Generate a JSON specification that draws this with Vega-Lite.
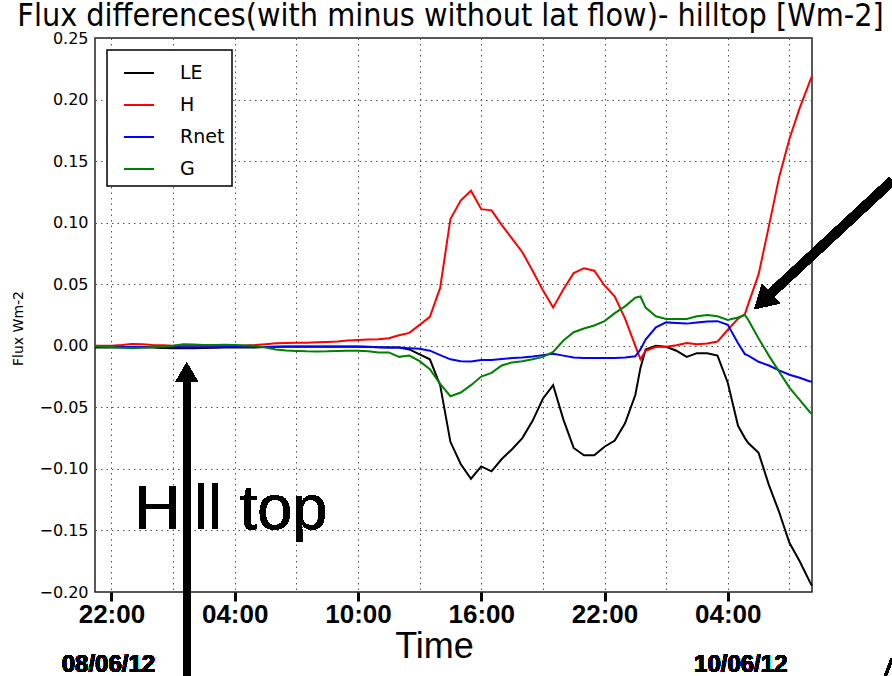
{
  "$schema": "https://vega.github.io/schema/vega-lite/v6.json",
  "width": 717,
  "height": 554,
  "autosize": {"type": "none"},
  "padding": {"left": 95, "top": 38, "right": 80, "bottom": 84},
  "background": "white",
  "title": {
    "text": "Flux differences(with minus without lat flow)- hilltop [Wm-2]",
    "font": "DejaVu Sans Condensed, DejaVu Sans",
    "fontSize": 32,
    "fontWeight": "normal",
    "color": "black",
    "anchor": "middle",
    "baseline": "alphabetic",
    "offset": 9,
    "dx": -3,
    "dy": 37
  },
  "data": {
    "values": [
      {"t": "2012-06-08 21:12", "LE": -0.0014, "H": 0.0, "Rnet": -0.001, "G": 0.0},
      {"t": "2012-06-08 21:30", "LE": -0.0014, "H": 0.0, "Rnet": -0.001, "G": -0.0005},
      {"t": "2012-06-08 22:00", "LE": -0.0014, "H": 0.0, "Rnet": -0.001, "G": -0.001},
      {"t": "2012-06-08 22:30", "LE": -0.0014, "H": 0.0006, "Rnet": -0.001, "G": -0.0015},
      {"t": "2012-06-08 23:00", "LE": -0.0015, "H": 0.0014, "Rnet": -0.001, "G": -0.002},
      {"t": "2012-06-08 23:30", "LE": -0.0015, "H": 0.0012, "Rnet": -0.001, "G": -0.0015},
      {"t": "2012-06-09 00:00", "LE": -0.0015, "H": 0.0006, "Rnet": -0.001, "G": -0.001},
      {"t": "2012-06-09 00:30", "LE": -0.0018, "H": 0.0004, "Rnet": -0.001, "G": -0.0005},
      {"t": "2012-06-09 01:00", "LE": -0.002, "H": 0.0, "Rnet": -0.001, "G": 0.0},
      {"t": "2012-06-09 01:30", "LE": -0.002, "H": 0.0, "Rnet": -0.0012, "G": 0.0012},
      {"t": "2012-06-09 02:00", "LE": -0.002, "H": 0.0, "Rnet": -0.0012, "G": 0.001},
      {"t": "2012-06-09 02:30", "LE": -0.0018, "H": 0.0, "Rnet": -0.0012, "G": 0.0006},
      {"t": "2012-06-09 03:00", "LE": -0.0016, "H": 0.0, "Rnet": -0.0012, "G": 0.0006},
      {"t": "2012-06-09 03:30", "LE": -0.0015, "H": 0.0, "Rnet": -0.001, "G": 0.0008},
      {"t": "2012-06-09 04:00", "LE": -0.0015, "H": 0.0, "Rnet": -0.001, "G": 0.0006},
      {"t": "2012-06-09 04:30", "LE": -0.0014, "H": 0.0003, "Rnet": -0.001, "G": 0.0003},
      {"t": "2012-06-09 05:00", "LE": -0.0014, "H": 0.0006, "Rnet": -0.001, "G": 0.0},
      {"t": "2012-06-09 05:30", "LE": -0.001, "H": 0.0013, "Rnet": -0.001, "G": -0.0015},
      {"t": "2012-06-09 06:00", "LE": -0.0008, "H": 0.002, "Rnet": -0.0008, "G": -0.003},
      {"t": "2012-06-09 06:30", "LE": -0.0006, "H": 0.0022, "Rnet": -0.0008, "G": -0.0038},
      {"t": "2012-06-09 07:00", "LE": -0.0006, "H": 0.0024, "Rnet": -0.0008, "G": -0.0042},
      {"t": "2012-06-09 07:30", "LE": -0.0006, "H": 0.0024, "Rnet": -0.0008, "G": -0.0045},
      {"t": "2012-06-09 08:00", "LE": -0.0006, "H": 0.0028, "Rnet": -0.0008, "G": -0.0046},
      {"t": "2012-06-09 08:30", "LE": -0.0006, "H": 0.0031, "Rnet": -0.0008, "G": -0.0045},
      {"t": "2012-06-09 09:00", "LE": -0.0006, "H": 0.0035, "Rnet": -0.0008, "G": -0.0042},
      {"t": "2012-06-09 09:30", "LE": -0.0006, "H": 0.0042, "Rnet": -0.0008, "G": -0.004},
      {"t": "2012-06-09 10:00", "LE": -0.0006, "H": 0.0046, "Rnet": -0.0008, "G": -0.004},
      {"t": "2012-06-09 10:30", "LE": -0.0008, "H": 0.005, "Rnet": -0.001, "G": -0.0045},
      {"t": "2012-06-09 11:00", "LE": -0.0012, "H": 0.0054, "Rnet": -0.0012, "G": -0.0054},
      {"t": "2012-06-09 11:30", "LE": -0.0014, "H": 0.0062, "Rnet": -0.0014, "G": -0.0054},
      {"t": "2012-06-09 12:00", "LE": -0.0014, "H": 0.0085, "Rnet": -0.0015, "G": -0.009},
      {"t": "2012-06-09 12:30", "LE": -0.003, "H": 0.0105, "Rnet": -0.002, "G": -0.008},
      {"t": "2012-06-09 13:00", "LE": -0.007, "H": 0.017, "Rnet": -0.0025, "G": -0.0125},
      {"t": "2012-06-09 13:30", "LE": -0.011, "H": 0.0235, "Rnet": -0.004, "G": -0.019},
      {"t": "2012-06-09 14:00", "LE": -0.032, "H": 0.047, "Rnet": -0.0076, "G": -0.031},
      {"t": "2012-06-09 14:30", "LE": -0.078, "H": 0.103, "Rnet": -0.011, "G": -0.041},
      {"t": "2012-06-09 15:00", "LE": -0.096, "H": 0.118, "Rnet": -0.0125, "G": -0.038},
      {"t": "2012-06-09 15:30", "LE": -0.108, "H": 0.126, "Rnet": -0.0127, "G": -0.032},
      {"t": "2012-06-09 16:00", "LE": -0.098, "H": 0.111, "Rnet": -0.0116, "G": -0.025},
      {"t": "2012-06-09 16:30", "LE": -0.102, "H": 0.11, "Rnet": -0.0116, "G": -0.022},
      {"t": "2012-06-09 17:00", "LE": -0.092, "H": 0.098, "Rnet": -0.0107, "G": -0.016},
      {"t": "2012-06-09 17:30", "LE": -0.084, "H": 0.087, "Rnet": -0.01, "G": -0.0135},
      {"t": "2012-06-09 18:00", "LE": -0.075, "H": 0.076, "Rnet": -0.0095, "G": -0.0125},
      {"t": "2012-06-09 18:30", "LE": -0.061, "H": 0.061, "Rnet": -0.0088, "G": -0.011},
      {"t": "2012-06-09 19:00", "LE": -0.043, "H": 0.045, "Rnet": -0.0076, "G": -0.009},
      {"t": "2012-06-09 19:30", "LE": -0.032, "H": 0.031, "Rnet": -0.0064, "G": -0.005},
      {"t": "2012-06-09 20:00", "LE": -0.06, "H": 0.046, "Rnet": -0.008, "G": 0.0043},
      {"t": "2012-06-09 20:30", "LE": -0.083, "H": 0.059, "Rnet": -0.0095, "G": 0.011},
      {"t": "2012-06-09 21:00", "LE": -0.089, "H": 0.063, "Rnet": -0.01, "G": 0.014},
      {"t": "2012-06-09 21:30", "LE": -0.089, "H": 0.061, "Rnet": -0.01, "G": 0.0165},
      {"t": "2012-06-09 22:00", "LE": -0.082, "H": 0.049, "Rnet": -0.01, "G": 0.02},
      {"t": "2012-06-09 22:30", "LE": -0.077, "H": 0.04, "Rnet": -0.01, "G": 0.0265},
      {"t": "2012-06-09 23:00", "LE": -0.063, "H": 0.022, "Rnet": -0.0095, "G": 0.032},
      {"t": "2012-06-09 23:30", "LE": -0.04, "H": 0.0, "Rnet": -0.0085, "G": 0.039},
      {"t": "2012-06-09 23:45", "LE": -0.018, "H": -0.011, "Rnet": -0.003, "G": 0.04},
      {"t": "2012-06-10 00:00", "LE": -0.003, "H": -0.004, "Rnet": 0.005, "G": 0.031},
      {"t": "2012-06-10 00:30", "LE": 0.0, "H": -0.001, "Rnet": 0.015, "G": 0.024},
      {"t": "2012-06-10 01:00", "LE": -0.0008, "H": -0.0008, "Rnet": 0.019, "G": 0.0217},
      {"t": "2012-06-10 01:30", "LE": -0.004, "H": 0.0005, "Rnet": 0.0185, "G": 0.0217},
      {"t": "2012-06-10 02:00", "LE": -0.009, "H": 0.0022, "Rnet": 0.018, "G": 0.0218},
      {"t": "2012-06-10 02:30", "LE": -0.006, "H": 0.0012, "Rnet": 0.019, "G": 0.024},
      {"t": "2012-06-10 03:00", "LE": -0.006, "H": 0.0018, "Rnet": 0.0197, "G": 0.025},
      {"t": "2012-06-10 03:30", "LE": -0.008, "H": 0.0034, "Rnet": 0.02, "G": 0.024},
      {"t": "2012-06-10 04:00", "LE": -0.03, "H": 0.013, "Rnet": 0.017, "G": 0.021},
      {"t": "2012-06-10 04:30", "LE": -0.065, "H": 0.022, "Rnet": 0.002, "G": 0.023},
      {"t": "2012-06-10 04:50", "LE": -0.075, "H": 0.0257, "Rnet": -0.0068, "G": 0.025},
      {"t": "2012-06-10 05:00", "LE": -0.079, "H": 0.034, "Rnet": -0.008, "G": 0.021},
      {"t": "2012-06-10 05:30", "LE": -0.087, "H": 0.058, "Rnet": -0.013, "G": 0.006},
      {"t": "2012-06-10 06:00", "LE": -0.113, "H": 0.097, "Rnet": -0.016, "G": -0.008},
      {"t": "2012-06-10 06:30", "LE": -0.135, "H": 0.137, "Rnet": -0.02, "G": -0.021},
      {"t": "2012-06-10 07:00", "LE": -0.16, "H": 0.168, "Rnet": -0.0235, "G": -0.034},
      {"t": "2012-06-10 07:30", "LE": -0.175, "H": 0.193, "Rnet": -0.026, "G": -0.044},
      {"t": "2012-06-10 08:00", "LE": -0.192, "H": 0.215, "Rnet": -0.029, "G": -0.054},
      {"t": "2012-06-10 08:06", "LE": -0.195, "H": 0.219, "Rnet": -0.029, "G": -0.0555}
    ],
    "format": {"parse": {"t": "utc:'%Y-%m-%d %H:%M'"}}
  },
  "encoding": {
    "x": {
      "field": "t",
      "type": "temporal",
      "scale": {
        "type": "utc",
        "nice": false,
        "domain": [
          {"year": 2012, "month": 6, "date": 8, "hours": 21, "minutes": 12, "utc": true},
          {"year": 2012, "month": 6, "date": 10, "hours": 8, "minutes": 6, "utc": true}
        ]
      },
      "axis": {
        "title": "Time",
        "titleFont": "Liberation Sans",
        "titleFontSize": 36,
        "titleFontWeight": "normal",
        "titleColor": "black",
        "titleX": 339,
        "titleY": 65,
        "titleBaseline": "alphabetic",
        "titleAlign": "center",
        "values": [
          {"year": 2012, "month": 6, "date": 8, "hours": 22, "utc": true},
          {"year": 2012, "month": 6, "date": 9, "hours": 1, "utc": true},
          {"year": 2012, "month": 6, "date": 9, "hours": 4, "utc": true},
          {"year": 2012, "month": 6, "date": 9, "hours": 7, "utc": true},
          {"year": 2012, "month": 6, "date": 9, "hours": 10, "utc": true},
          {"year": 2012, "month": 6, "date": 9, "hours": 13, "utc": true},
          {"year": 2012, "month": 6, "date": 9, "hours": 16, "utc": true},
          {"year": 2012, "month": 6, "date": 9, "hours": 19, "utc": true},
          {"year": 2012, "month": 6, "date": 9, "hours": 22, "utc": true},
          {"year": 2012, "month": 6, "date": 10, "hours": 1, "utc": true},
          {"year": 2012, "month": 6, "date": 10, "hours": 4, "utc": true},
          {"year": 2012, "month": 6, "date": 10, "hours": 7, "utc": true}
        ],
        "labelExpr": "indexof([22, 4, 10, 16], utchours(datum.value)) >= 0 ? utcFormat(datum.value, '%H:%M') : ''",
        "labelFont": "Liberation Sans",
        "labelFontWeight": "bold",
        "labelFontSize": 26,
        "labelColor": "black",
        "labelPadding": 0,
        "labelOverlap": false,
        "labelFlush": false,
        "ticks": true,
        "tickSize": 9,
        "tickWidth": 3,
        "tickColor": "black",
        "tickOpacity": {"condition": {"test": "indexof([22, 4, 10, 16], utchours(datum.value)) >= 0", "value": 1}, "value": 0},
        "grid": true,
        "gridColor": "#555555",
        "gridDash": [1.5, 4],
        "gridWidth": 1
      }
    },
    "y": {
      "type": "quantitative",
      "scale": {"domain": [-0.2, 0.25], "nice": false, "zero": false},
      "axis": {
        "title": "Flux Wm-2",
        "titleFont": "DejaVu Sans",
        "titleFontSize": 14,
        "titleFontWeight": "normal",
        "titleColor": "black",
        "titleX": -77,
        "titleY": 290,
        "titleAngle": 270,
        "titleAlign": "center",
        "titleBaseline": "middle",
        "values": [-0.2, -0.15, -0.1, -0.05, 0, 0.05, 0.1, 0.15, 0.2, 0.25],
        "format": ".2f",
        "labelFont": "DejaVu Sans",
        "labelFontSize": 16,
        "labelColor": "black",
        "labelPadding": 7,
        "ticks": false,
        "grid": true,
        "gridColor": "#555555",
        "gridDash": [1.5, 4],
        "gridWidth": 1
      }
    }
  },
  "layer": [
    {
      "transform": [{"fold": ["LE", "H", "Rnet", "G"], "as": ["series", "value"]}],
      "mark": {"type": "line", "strokeWidth": 2, "interpolate": "linear"},
      "encoding": {
        "y": {"field": "value", "type": "quantitative"},
        "color": {
          "field": "series",
          "type": "nominal",
          "scale": {"domain": ["LE", "H", "Rnet", "G"], "range": ["#000000", "#ff0000", "#0000ff", "#008000"]},
          "legend": {
            "title": null,
            "orient": "top-left",
            "offset": 12,
            "symbolType": "stroke",
            "symbolStrokeWidth": 2,
            "symbolSize": 900,
            "symbolOffset": 9,
            "labelFont": "DejaVu Sans",
            "labelFontSize": 19,
            "labelColor": "black",
            "labelOffset": 25,
            "rowPadding": 6,
            "padding": 7,
            "strokeColor": "black",
            "fillColor": "white",
            "cornerRadius": 0
          }
        }
      }
    },
    {
      "mark": {"type": "text", "text": "Hill top", "font": "Liberation Sans", "fontSize": 63, "align": "left", "baseline": "alphabetic", "color": "black"},
      "encoding": {
        "x": {"datum": {"year": 2012, "month": 6, "date": 8, "hours": 23, "minutes": 8, "utc": true}, "type": "temporal"},
        "y": {"datum": -0.1486, "type": "quantitative"}
      }
    },
    {
      "mark": {"type": "rule", "strokeWidth": 7, "color": "black"},
      "encoding": {
        "x": {"datum": {"year": 2012, "month": 6, "date": 9, "hours": 1, "minutes": 40, "utc": true}, "type": "temporal"},
        "y": {"datum": -0.28, "type": "quantitative"},
        "y2": {"datum": -0.027}
      }
    },
    {
      "mark": {"type": "point", "shape": "triangle-up", "filled": true, "size": 484, "color": "black", "opacity": 1, "strokeWidth": 0},
      "encoding": {
        "x": {"datum": {"year": 2012, "month": 6, "date": 9, "hours": 1, "minutes": 40, "utc": true}, "type": "temporal"},
        "y": {"datum": -0.0215, "type": "quantitative"}
      }
    },
    {
      "mark": {"type": "rule", "strokeWidth": 9, "color": "black"},
      "encoding": {
        "x": {"datum": {"year": 2012, "month": 6, "date": 10, "hours": 12, "minutes": 0, "utc": true}, "type": "temporal"},
        "x2": {"datum": {"year": 2012, "month": 6, "date": 10, "hours": 6, "minutes": 5, "utc": true}},
        "y": {"datum": 0.134, "type": "quantitative"},
        "y2": {"datum": 0.0422}
      }
    },
    {
      "mark": {"type": "point", "shape": "triangle-up", "filled": true, "size": 676, "angle": 227, "color": "black", "opacity": 1, "strokeWidth": 0},
      "encoding": {
        "x": {"datum": {"year": 2012, "month": 6, "date": 10, "hours": 5, "minutes": 42, "utc": true}, "type": "temporal"},
        "y": {"datum": 0.0361, "type": "quantitative"}
      }
    },
    {
      "mark": {"type": "rule", "strokeWidth": 2.5, "color": "black"},
      "encoding": {
        "x": {"datum": {"year": 2012, "month": 6, "date": 10, "hours": 11, "minutes": 24, "utc": true}, "type": "temporal"},
        "x2": {"datum": {"year": 2012, "month": 6, "date": 10, "hours": 12, "minutes": 0, "utc": true}},
        "y": {"datum": -0.28, "type": "quantitative"},
        "y2": {"datum": -0.254}
      }
    },
    {
      "mark": {"type": "text", "text": "08/06/12", "font": "Liberation Sans", "fontWeight": "bold", "fontSize": 24, "align": "center", "baseline": "alphabetic", "color": "black", "dx": -3},
      "encoding": {
        "x": {"datum": {"year": 2012, "month": 6, "date": 8, "hours": 22, "utc": true}, "type": "temporal"},
        "y": {"datum": -0.2647, "type": "quantitative"}
      }
    },
    {
      "mark": {"type": "text", "text": "10/06/12", "font": "Liberation Sans", "fontWeight": "bold", "fontSize": 24, "align": "center", "baseline": "alphabetic", "color": "black", "dx": 13},
      "encoding": {
        "x": {"datum": {"year": 2012, "month": 6, "date": 10, "hours": 4, "utc": true}, "type": "temporal"},
        "y": {"datum": -0.2647, "type": "quantitative"}
      }
    }
  ],
  "config": {
    "view": {"stroke": "#222222", "strokeWidth": 1.5},
    "axis": {"domain": false},
    "legend": {"strokeWidth": 1.5}
  }
}
